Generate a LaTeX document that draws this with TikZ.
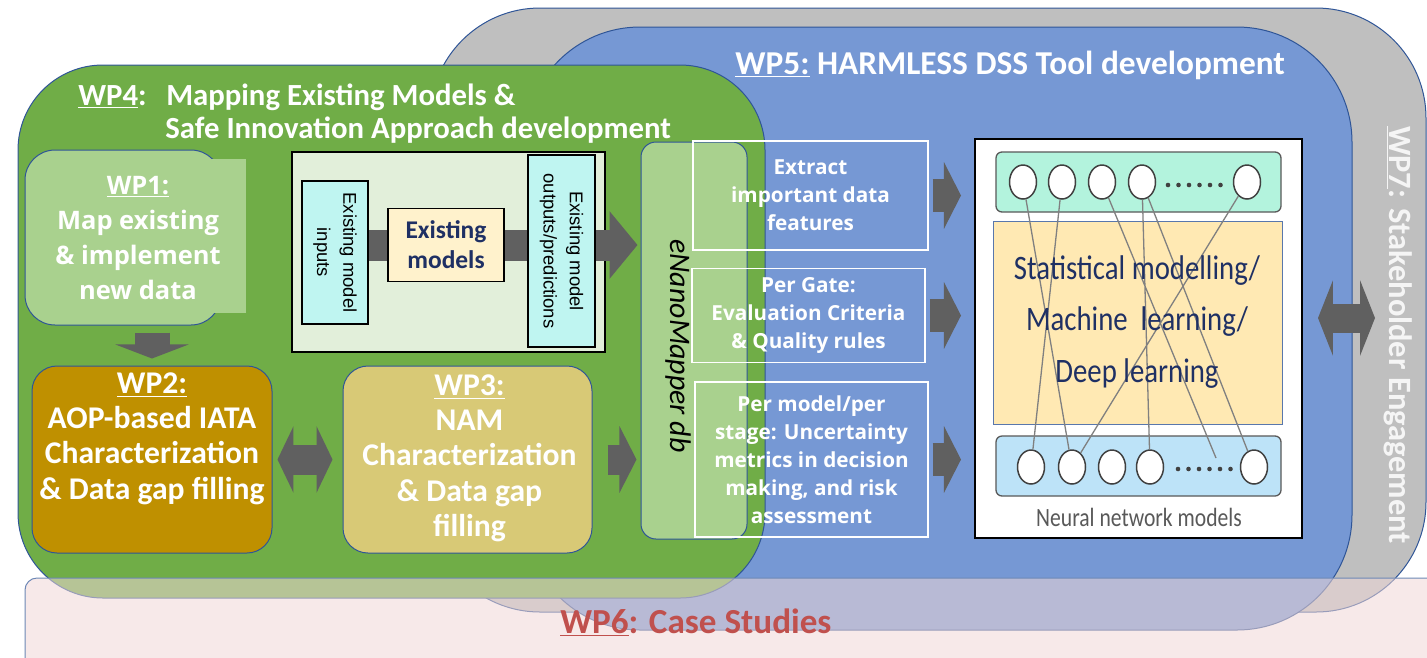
\documentclass[tikz,border=0pt]{standalone}
\usepackage{fontspec}
\usepackage{graphicx}
\setmainfont{Carlito}
\newfontfamily\opensans{Open Sans}
\newfontfamily\arialfont{Liberation Sans}
\usetikzlibrary{arrows.meta, positioning, shapes.geometric}

\newlength{\px}
\setlength{\px}{0.02cm}

\definecolor{wpgray}{HTML}{BFBFBF}
\definecolor{wpblue}{HTML}{7698D4}
\definecolor{wpgreen}{HTML}{70AD47}
\definecolor{lightgreen}{HTML}{A9D18E}
\definecolor{wptwofill}{HTML}{BF9000}
\definecolor{sand}{HTML}{D8C976}
\definecolor{panelfill}{HTML}{E2EFDA}
\definecolor{cyanbox}{HTML}{BFF5F1}
\definecolor{cream}{HTML}{FFF2CC}
\definecolor{navy}{HTML}{1F3064}
\definecolor{arrowgray}{HTML}{606060}
\definecolor{edgeblue}{HTML}{2F5597}
\definecolor{mint}{HTML}{B3F3DD}
\definecolor{sky}{HTML}{BDE3F8}
\definecolor{paleyellow}{HTML}{FFE9B3}
\definecolor{casered}{HTML}{C0504D}
\definecolor{pinkbar}{HTML}{F0D7D7}

\begin{document}
\begin{tikzpicture}[
        x = 0.02cm, y = -0.02cm,
        wpframe/.style = {draw = edgeblue, line width = 1\px, inner sep = 0pt},
        wptitle/.style = {text = white, inner sep = 0pt, font = \bfseries\fontsize{17.5pt}{19pt}\selectfont},
        wplabel/.style = {text = white, align = center, inner sep = 0pt, font = \bfseries\fontsize{18pt}{20pt}\selectfont},
        taskbox/.style = {draw = white, line width = 1.3\px, inner sep = 0pt, text = white, align = center, font = \opensans\bfseries\fontsize{11.8pt}{16pt}\selectfont},
        databox/.style = {draw = black, line width = 1.5\px, fill = cyanbox, align = center, inner sep = 0pt, font = \arialfont\fontsize{10.5pt}{15pt}\selectfont},
        blockarrow/.style = {draw = arrowgray},
        nnlayer/.style = {draw = black!65, line width = 1.3\px, rounded corners = 6\px, minimum width = 285\px, minimum height = 60\px, inner sep = 0pt},
        neuron/.style = {ellipse, draw = black!75, line width = 1.5\px, fill = white, minimum width = 27\px, minimum height = 34\px, inner sep = 0pt},
        synapse/.style = {draw = black!50, line width = 1.3\px}
    ]

        \useasboundingbox (0,0) rectangle (1427,657);
        \clip (0,0) rectangle (1427,657);

        % work package areas
        \node[wpframe, fill = wpgray, minimum width = 996\px, minimum height = 604\px, rounded corners = 110\px] (wpseven) at (928,310) {};
        \node[wpframe, fill = wpblue, minimum width = 827\px, minimum height = 603\px, rounded corners = 115\px] (wpfive) at (938.5,328.5) {};
        \node[wpframe, fill = wpgreen, minimum width = 747\px, minimum height = 533\px, rounded corners = 85\px] (wpfour) at (391.5,331.5) {};

        \node[wptitle, anchor = base west] (wpfourkey) at (78,105) {\underline{WP4}:};
        \node[wptitle, anchor = base west] (wpfourtitle) at (166,105) {Mapping Existing Models \&};
        \node[wptitle, anchor = base west] (wpfoursub) at (165,138) {Safe Innovation Approach development};
        \node[wptitle, anchor = base west, font = \bfseries\fontsize{19pt}{21pt}\selectfont] (wpfivetitle) at (735,74) {\underline{WP5:} HARMLESS DSS Tool development};
        \node[rotate = -90, text = white!96!black, font = \bfseries\fontsize{18.5pt}{21pt}\selectfont] (wpseventitle) at (1398,335) {\underline{WP7}: Stakeholder Engagement};

        % WP1 - WP3
        \node[wpframe, fill = lightgreen, minimum width = 196\px, minimum height = 175\px, rounded corners = 30\px] (wpone) at (123,237.5) {};
        \fill[lightgreen] (195,159) rectangle (246,313);
        \node[wplabel, font = \opensans\bfseries\fontsize{14.5pt}{20pt}\selectfont, below = 26\px of wpone.north, xshift = 15\px] (wponetext) {\underline{WP1:}\\Map existing\\\& implement\\new data};

        \node[wpframe, fill = wptwofill, minimum width = 240\px, minimum height = 187\px, rounded corners = 25\px] (wptwo) at (152,459.5) {};
        \node[wplabel, below = 7\px of wptwo.north] (wptwotext) {\underline{WP2:}\\AOP-based IATA\\Characterization\\\& Data gap filling};
        \node[wpframe, fill = sand, minimum width = 249\px, minimum height = 187\px, rounded corners = 25\px] (wpthree) at (467.5,459.5) {};
        \node[wplabel, below = 9\px of wpthree.north, xshift = 2\px] (wpthreetext) {\underline{WP3:}\\NAM\\Characterization\\\& Data gap\\filling};

        % database and tool steps
        \node[wpframe, fill = lightgreen, minimum width = 106\px, minimum height = 397\px, rounded corners = 15\px] (enano) at (694,340.5) {};
        \node[rotate = -90, font = \itshape\fontsize{17pt}{20pt}\selectfont] (enanotext) at (678,346) {eNanoMapper db};

        \node[taskbox, minimum width = 235\px, minimum height = 109\px] (extract) at (810.5,195.5) {Extract\\important data\\features};
        \node[taskbox, minimum width = 233\px, minimum height = 94\px] (gate) at (808.5,315.5) {Per Gate:\\Evaluation Criteria\\\& Quality rules};
        \node[taskbox, minimum width = 233\px, minimum height = 155\px] (uncertainty) at (811.5,459.5) {Per model/per\\stage: Uncertainty\\metrics in decision\\making, and risk\\assessment};

        % neural network picture
        \node[draw = black, line width = 2\px, fill = white, minimum width = 327\px, minimum height = 399\px, inner sep = 0pt] (nn) at (1138.5,338.5) {};
        \node[nnlayer, fill = mint] (outlayer) at (1138.5,182) {};
        \node[draw = edgeblue!80, line width = 1\px, fill = paleyellow, minimum width = 289\px, minimum height = 203\px, inner sep = 0pt] (hidden) at (1137.5,322.5) {};
        \node[nnlayer, fill = sky] (inlayer) at (1138.5,466) {};

        \foreach \x [count = \i] in {1023, 1062, 1102, 1142, 1247}
            \node[neuron] (t\i) at (\x,182) {};
        \foreach \x [count = \i] in {1031, 1072, 1112, 1150, 1254}
            \node[neuron] (b\i) at (\x,467) {};
        \foreach \k in {0,...,5} {
            \fill[black!75] (1168+10.5*\k,185) circle (2.3\px);
            \fill[black!75] (1178+10.5*\k,469) circle (2.3\px);
        }
        \coordinate (dotend) at (1216,458);
        \draw[synapse] (t1) -- (b2) (t2) -- (b1) (t3) -- (dotend) (t4) -- (b4) (t4) -- (b5) (t5) -- (b2);

        \node[text = navy, align = center, font = \fontsize{19.5pt}{29.5pt}\selectfont] (nntext) at (1137,322) {\scalebox{0.84}[1]{Statistical modelling/}\\\scalebox{0.84}[1]{Machine\ \ learning/}\\\scalebox{0.84}[1]{Deep learning}};
        \node[text = black!65, font = \fontsize{15pt}{18pt}\selectfont] (nncaption) at (1139,517) {\scalebox{0.82}[1]{Neural network models}};

        % existing models panel
        \node[draw = black, line width = 1.5\px, fill = panelfill, minimum width = 313\px, minimum height = 200\px, inner sep = 0pt] (panel) at (448.5,252) {};
        \coordinate (flowin) at (335,245);
        \draw[blockarrow, line width = 31\px, -{Triangle[length = 15.9pt, width = 37.6pt]}, shorten >= 3\px] (flowin) -- (flowin -| enano.west);
        \node[databox, rotate = -90, minimum width = 143\px, minimum height = 66\px] (inputs) at (335,252.5) {Existing model\\inputs};
        \node[draw = black, line width = 1.5\px, fill = cream, minimum width = 116\px, minimum height = 73\px, inner sep = 0pt, text = navy, align = center, font = \bfseries\fontsize{14.5pt}{17pt}\selectfont] (models) at (446,245) {Existing\\models};
        \node[databox, rotate = -90, minimum width = 192\px, minimum height = 67\px] (outputs) at (561.5,251) {Existing model\\outputs/predictions};

        % block arrows
        \draw[blockarrow, line width = 35\px, -{Triangle[length = 8pt, width = 41.5pt]}, shorten <= 7\px, shorten >= 7\px] (wpone.south -| wptwo.north) -- (wptwo.north);
        \draw[blockarrow, line width = 30\px, {Triangle[length = 9.1pt, width = 37.6pt]}-{Triangle[length = 9.1pt, width = 37.6pt]}, shorten <= 5\px, shorten >= 10\px] (wptwo.east) -- (wpthree.west);
        \draw[blockarrow, line width = 30\px, -{Triangle[length = 9.7pt, width = 37.6pt]}, shorten <= 15\px, shorten >= 4\px] (wpthree.east) -- (wpthree.east -| enano.west);
        \foreach \task in {extract, gate, uncertainty}
            \draw[blockarrow, line width = 33\px, -{Triangle[length = 9.7pt, width = 37.6pt]}, shorten <= 4\px, shorten >= 13\px] (\task.east) -- (\task.east -| nn.west);
        \coordinate (stake) at (1375,318);
        \draw[blockarrow, line width = 29\px, {Triangle[length = 8.5pt, width = 42.7pt]}-{Triangle[length = 8.5pt, width = 42.7pt]}, shorten <= 15\px] (nn.east |- stake) -- (stake);

        % case studies bar
        \node[wpframe, draw = edgeblue!70, fill = pinkbar, fill opacity = 0.55, minimum width = 1425\px, minimum height = 100\px, rounded corners = 12\px] (wpsix) at (737.5,628) {};
        \node[anchor = base west, text = casered, inner sep = 0pt, font = \bfseries\fontsize{20pt}{22pt}\selectfont] (wpsixtitle) at (560,633) {\underline{WP6}: Case Studies};

\end{tikzpicture}
\end{document}
